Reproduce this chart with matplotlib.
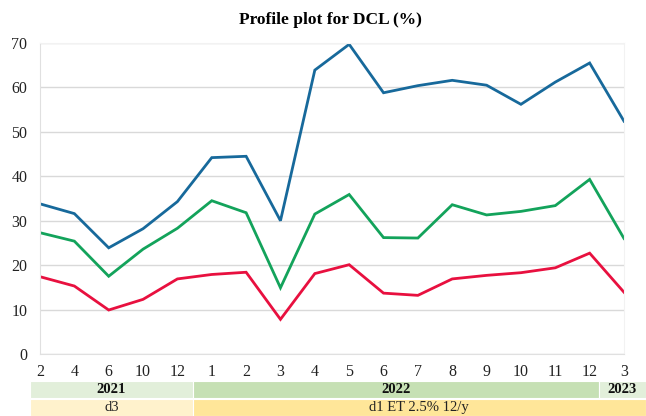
import numpy as np
import matplotlib
matplotlib.use("Agg")
import matplotlib.pyplot as plt
import matplotlib.transforms as mtransforms
from matplotlib.patches import Rectangle

# x axis categories (month of visit)
months = ["2", "4", "6", "10", "12", "1", "2", "3", "4", "5", "6", "7", "8", "9", "10", "11", "12", "3"]

# three profile series (%)
blue_vals = [33.8, 31.6, 23.9, 28.2, 34.3, 44.2, 44.5, 30.0, 63.9, 69.7, 58.8, 60.4, 61.6, 60.5, 56.2, 61.2, 65.5, 52.4]
green_vals = [27.3, 25.4, 17.5, 23.6, 28.3, 34.5, 31.8, 14.9, 31.5, 35.9, 26.2, 26.1, 33.6, 31.3, 32.1, 33.4, 39.3, 26.0]
red_vals = [17.4, 15.3, 9.9, 12.3, 16.9, 17.9, 18.4, 7.8, 18.1, 20.1, 13.7, 13.2, 16.9, 17.7, 18.3, 19.4, 22.7, 13.9]

# bottom band labels and their spans (in category units)
years = ["2021", "2022", "2023"]
year_edges = [-0.28, 4.44, 16.27, 17.63]
doses = ["d3", "d1 ET 2.5% 12/y"]
dose_edges = [-0.28, 4.44, 17.63]

# tick marks that sit on the x axis in the original
axis_marks = [2, 4, 7, 9, 14, 16, 17]

plt.rcParams['font.family'] = ['Liberation Serif', 'DejaVu Serif']

fig = plt.figure(figsize=(6.46, 4.16), dpi=100)
ax = fig.add_axes([40 / 646, 62 / 416, 584 / 646, 311 / 416])

x = np.arange(len(months))
ax.plot(x, blue_vals, color="#17699b", lw=2.0, solid_joinstyle="miter")
ax.plot(x, green_vals, color="#13a35b", lw=2.0, solid_joinstyle="miter")
ax.plot(x, red_vals, color="#e8103f", lw=2.0, solid_joinstyle="miter")

ax.set_xlim(0, len(months) - 1)
ax.set_ylim(0, 70)
ax.set_yticks(np.arange(0, 71, 10))
ax.set_xticks(x)
ax.set_xticklabels(months)
ax.set_xticks(axis_marks, minor=True)
ax.tick_params(axis="y", length=0, pad=9, labelsize=11.5, colors="#222222")
ax.tick_params(axis="x", which="major", length=0, pad=7, labelsize=11.5, colors="#222222")
ax.tick_params(axis="x", which="minor", length=8, direction="inout", color="#d0d0d0", width=1.2)

ax.grid(axis="y", color="#d9d9d9", lw=1)
ax.set_axisbelow(True)
for side in ["top", "right"]:
    ax.spines[side].set_color("#f2f2f2")
for side in ["left", "bottom"]:
    ax.spines[side].set_color("#e0e0e0")

fig.text(0.511, 1 - 20 / 416, "Profile plot for DCL (%)", ha="center", va="center",
         fontsize=12.5, fontweight="bold")

# category bands under the axis
trans = mtransforms.blended_transform_factory(ax.transData, fig.transFigure)
year_colors = ["#e2efda", "#c6e0b4", "#e2efda"]
row1_y, row1_h = 18 / 416, 17.5 / 416
for i, name in enumerate(years):
    x0, x1 = year_edges[i], year_edges[i + 1]
    fig.patches.append(Rectangle((x0, row1_y), x1 - x0, row1_h, transform=trans,
                                 facecolor=year_colors[i], edgecolor="white", lw=0.8))
    fig.text((x0 + x1) / 2, row1_y + row1_h / 2, name, transform=trans, ha="center",
             va="center", fontsize=10.5, fontweight="bold", color="#111111")

dose_colors = ["#fff2cc", "#ffe699"]
row2_y, row2_h = 0, 17 / 416
for i, name in enumerate(doses):
    x0, x1 = dose_edges[i], dose_edges[i + 1]
    fig.patches.append(Rectangle((x0, row2_y), x1 - x0, row2_h, transform=trans,
                                 facecolor=dose_colors[i], edgecolor="white", lw=0.8))
    fig.text((x0 + x1) / 2, row2_y + row2_h / 2, name, transform=trans, ha="center",
             va="center", fontsize=10.5, color="#222222")

fig.savefig("out.png", dpi=100)
